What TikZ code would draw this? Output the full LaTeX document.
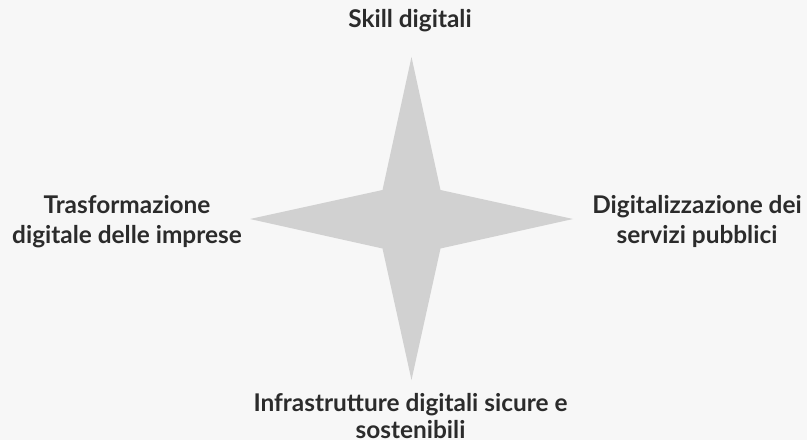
\documentclass[tikz,border=0pt]{standalone}
\usepackage{fontspec}
\setmainfont{Lato}
\definecolor{bgcol}{HTML}{F7F7F7}
\definecolor{starcol}{HTML}{D1D1D1}
\definecolor{textcol}{HTML}{2B2B2B}
\begin{document}
\begin{tikzpicture}[x=1pt,y=1pt]

      \fill[bgcol] (0,0) rectangle (807,440);
      \useasboundingbox (0,0) rectangle (807,440);

      % star
      \fill[starcol] (411.5,383) -- (440.5,250) -- (573,221) -- (440.5,191.5)
        -- (411.5,60) -- (382.5,191.5) -- (250,221) -- (382.5,250) -- cycle;

      \begin{scope}[every node/.style={text=textcol,align=center,inner sep=0pt,
          font=\fontsize{24.4}{30}\selectfont\bfseries}]
        \node[anchor=base] (skill) at (410,412) {Skill digitali};
        \node (imprese) at (127,218.5) {Trasformazione\\digitale delle imprese};
        \node (servizi) at (697,218.5) {Digitalizzazione dei\\servizi pubblici};
        \node[font=\fontsize{24.4}{26.5}\selectfont\bfseries] (infra) at (410.5,24)
          {Infrastrutture digitali sicure e\\sostenibili};
      \end{scope}

    \end{tikzpicture}
\end{document}
